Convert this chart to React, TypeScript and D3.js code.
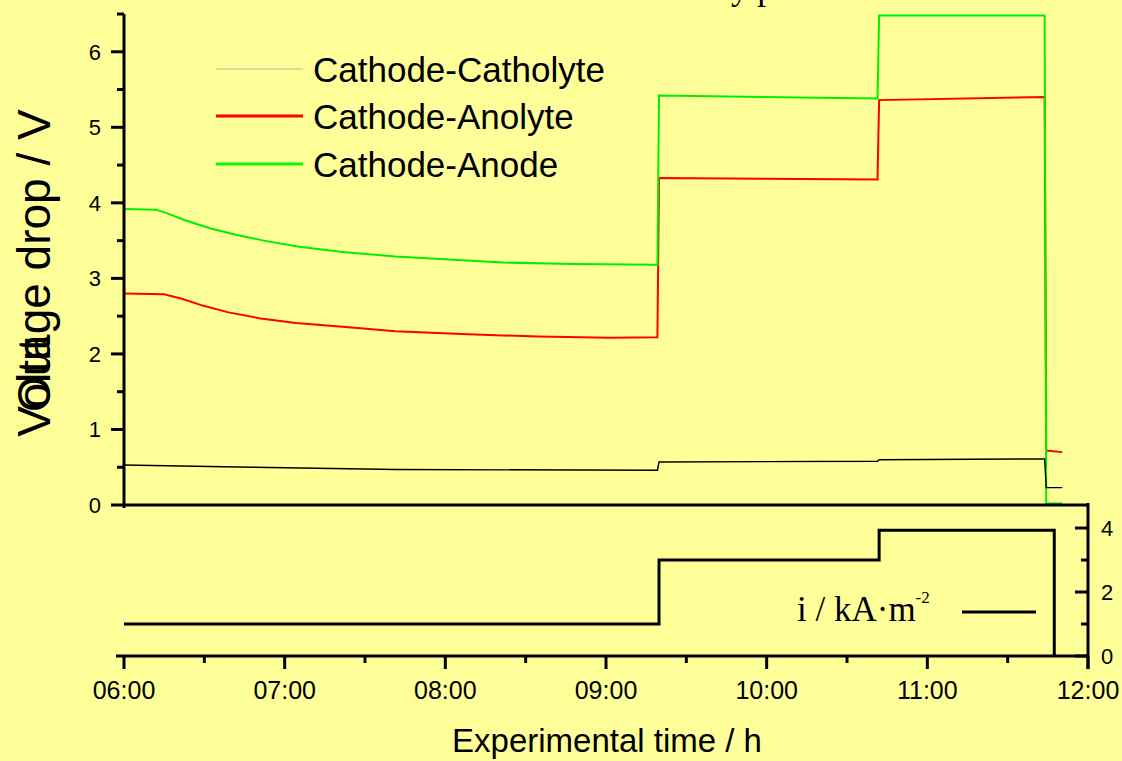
import React from 'react'
import * as d3 from 'd3'

// time in hours of day, voltages in V, current density in kA/m2
const anodeData: [number, number][] = [
  [6.0, 3.92], [6.2, 3.91], [6.27, 3.86], [6.38, 3.77], [6.54, 3.66], [6.69, 3.58],
  [6.87, 3.5], [7.09, 3.42], [7.36, 3.35], [7.69, 3.29], [8.02, 3.25], [8.36, 3.21],
  [8.8, 3.19], [9.32, 3.18], [9.33, 5.42], [10.69, 5.38], [10.7, 6.48], [11.73, 6.48],
  [11.74, 0.02], [11.84, 0.02],
]
const anolyteData: [number, number][] = [
  [6.0, 2.8], [6.25, 2.79], [6.36, 2.73], [6.49, 2.64], [6.65, 2.55], [6.85, 2.47],
  [7.07, 2.41], [7.36, 2.36], [7.69, 2.3], [8.14, 2.26], [8.58, 2.23], [9.02, 2.215],
  [9.32, 2.22], [9.33, 4.33], [10.69, 4.31], [10.7, 5.36], [11.73, 5.4], [11.74, 0.72],
  [11.84, 0.7],
]
const catholyteData: [number, number][] = [
  [6.0, 0.53], [6.8, 0.5], [7.69, 0.47], [9.32, 0.46], [9.33, 0.57], [10.69, 0.58],
  [10.7, 0.6], [11.73, 0.61], [11.74, 0.23], [11.84, 0.23],
]
const currentData: [number, number][] = [
  [6.0, 1.0], [9.33, 3.0], [10.7, 3.93], [11.79, 0],
]

const seriesNames = ['Cathode-Catholyte', 'Cathode-Anolyte', 'Cathode-Anode']
const voltTicks = [0, 1, 2, 3, 4, 5, 6]
const currentTicks = [0, 2, 4]

const base = new Date(2000, 0, 1, 0, 0).getTime()
const t = (h: number) => new Date(base + h * 3600e3)

const W = 1122
const H = 761
const BG = '#ffff99'
const SANS = '"Liberation Sans", Arial, sans-serif'
const SERIF = '"Liberation Serif", "Times New Roman", serif'

export default function App() {
  const x = d3.scaleTime().domain([t(6), t(12)]).range([124, 1088])
  const yV = d3.scaleLinear().domain([0, 6.5]).range([505, 14])
  const yI = d3.scaleLinear().domain([0, 4.72]).range([656, 505])

  const vLine = d3.line<[number, number]>()
    .x(d => x(t(d[0])))
    .y(d => yV(d[1]))
  const iLine = d3.line<[number, number]>()
    .x(d => x(t(d[0])))
    .y(d => yI(d[1]))
    .curve(d3.curveStepAfter)

  const halfHours = x.ticks(d3.timeMinute.every(30) as d3.TimeInterval)
  const fmt = d3.timeFormat('%H:%M')
  const vMinor = d3.range(0.5, 7, 1)
  const iMinor = [1, 3]

  const legendY = [69, 116, 164]
  const legendColor = ['#b4b4a0', '#ff0000', '#00ff00']
  const legendWidth = [1, 3, 3]

  return (
    <div style={{ position: 'fixed', left: 0, top: 0 }}>
      <svg width={W} height={H} style={{ display: 'block' }}>
        <rect x={0} y={0} width={W} height={H} fill={BG} />

        {/* title, cut off at the top as in the original */}
        <text x={418} y={-1} fontFamily={SERIF} fontSize={35}>Electrochemical cell by parts</text>

        {/* data */}
        <path d={vLine(anolyteData) || ''} fill="none" stroke="#ff0000" strokeWidth={2} />
        <path d={vLine(anodeData) || ''} fill="none" stroke="#00ee00" strokeWidth={2} />
        <path d={vLine(catholyteData) || ''} fill="none" stroke="#000" strokeWidth={1.4} />
        <path d={iLine(currentData) || ''} fill="none" stroke="#000" strokeWidth={3} />

        {/* left voltage axis */}
        <line x1={124} x2={124} y1={yV(6.5)} y2={508} stroke="#000" strokeWidth={3} />
        {voltTicks.map(v => (
          <g key={'vt' + v}>
            <line x1={111} x2={124} y1={yV(v)} y2={yV(v)} stroke="#000" strokeWidth={3} />
            <text x={101} y={yV(v) + 8} textAnchor="end" fontFamily={SANS} fontSize={22}>{v}</text>
          </g>
        ))}
        {vMinor.map(v => (
          <line key={'vm' + v} x1={117} x2={124} y1={yV(v)} y2={yV(v)} stroke="#000" strokeWidth={3} />
        ))}
        <line x1={124} x2={1088} y1={505} y2={505} stroke="#000" strokeWidth={3} />

        {/* right current axis */}
        <line x1={1088} x2={1088} y1={503} y2={669} stroke="#000" strokeWidth={3} />
        {currentTicks.map(v => (
          <g key={'it' + v}>
            <line x1={1075} x2={1088} y1={yI(v)} y2={yI(v)} stroke="#000" strokeWidth={3} />
            <text x={1101} y={yI(v) + 8} fontFamily={SANS} fontSize={22}>{v}</text>
          </g>
        ))}
        {iMinor.map(v => (
          <line key={'im' + v} x1={1081} x2={1088} y1={yI(v)} y2={yI(v)} stroke="#000" strokeWidth={3} />
        ))}

        {/* time axis */}
        <line x1={116} x2={1088} y1={656} y2={656} stroke="#000" strokeWidth={3} />
        {halfHours.map(d => {
          const major = d.getMinutes() === 0
          return (
            <g key={'xt' + d.getTime()}>
              <line x1={x(d)} x2={x(d)} y1={656} y2={major ? 669 : 663} stroke="#000" strokeWidth={3} />
              {major && (
                <text x={x(d)} y={699} textAnchor="middle" fontFamily={SANS} fontSize={25}>{fmt(d)}</text>
              )}
            </g>
          )
        })}

        {/* axis titles */}
        <text x={607} y={752} textAnchor="middle" fontFamily={SANS} fontSize={33}>Experimental time / h</text>
        <text transform="translate(50,273) rotate(-90)" textAnchor="middle" fontFamily={SANS} fontSize={46}>Voltage drop / V</text>
        <text transform="translate(50,412) rotate(-90)" fontFamily={SANS} fontSize={46}>Out</text>

        {/* legend */}
        {seriesNames.map((name, i) => (
          <g key={name}>
            <line x1={216} x2={303} y1={legendY[i]} y2={legendY[i]} stroke={legendColor[i]} strokeWidth={legendWidth[i]} />
            <text x={313} y={legendY[i] + 13} fontFamily={SANS} fontSize={35}>{name}</text>
          </g>
        ))}

        {/* current legend */}
        <text x={797} y={621} fontFamily={SERIF} fontSize={35}>
          i / kA·m<tspan fontSize={17} dy={-18}>-2</tspan>
        </text>
        <line x1={962} x2={1036} y1={612} y2={612} stroke="#000" strokeWidth={3} />
      </svg>
    </div>
  )
}
